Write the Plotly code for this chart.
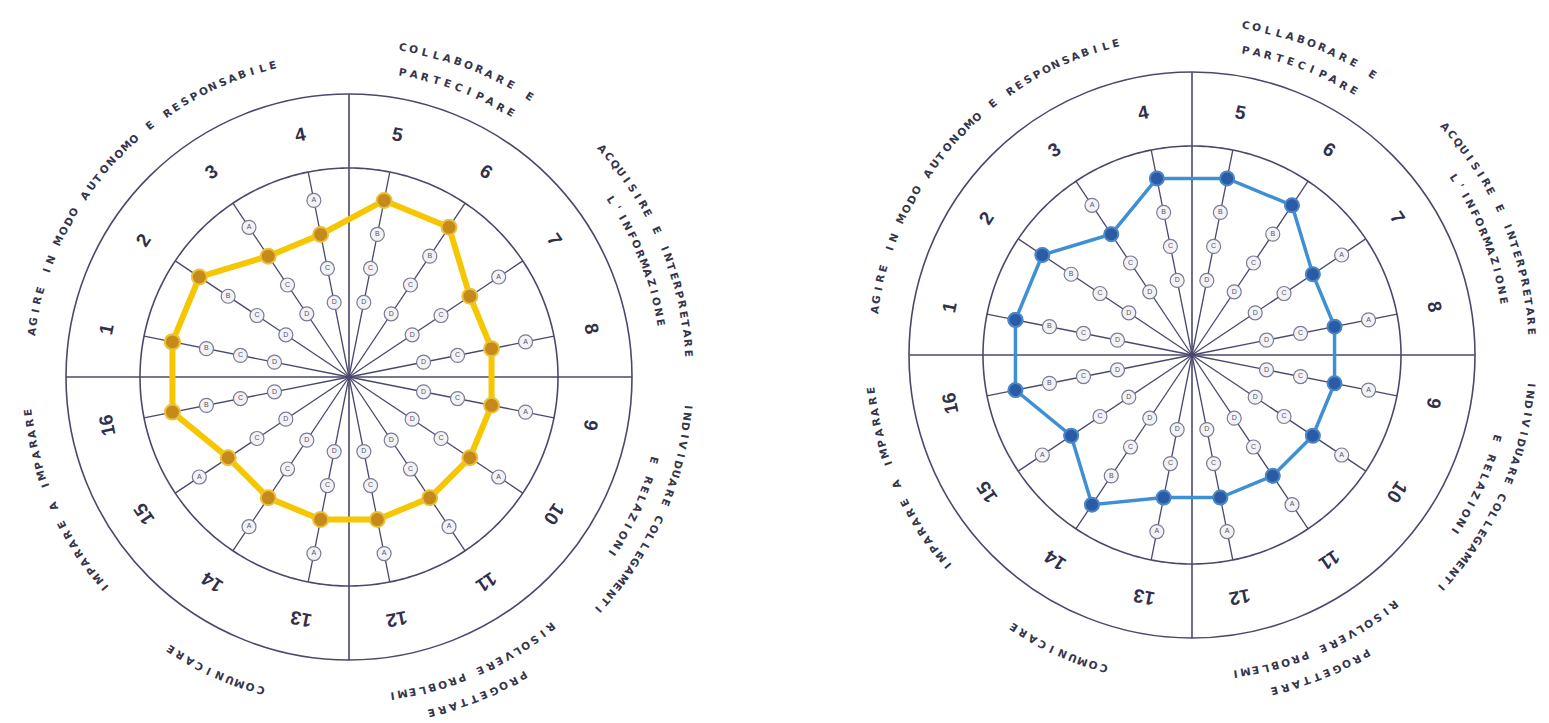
import numpy as np
import plotly.graph_objects as go

# ---------------- data ----------------
spokes = [str(i) for i in range(1, 17)]
level_letters = ["D", "C", "B", "A"]          # inner -> outer
level_values = [1, 2, 3, 4]
left_values = [4, 4, 3, 3, 4, 4, 3, 3, 3, 3, 3, 3, 3, 3, 3, 4]
right_values = [4, 4, 3, 4, 4, 4, 3, 3, 3, 3, 3, 3, 3, 4, 3, 4]
group_labels = [
    ["AGIRE IN MODO AUTONOMO E RESPONSABILE"],
    ["COLLABORARE E", "PARTECIPARE"],
    ["ACQUISIRE E INTERPRETARE", "L'INFORMAZIONE"],
    ["INDIVIDUARE COLLEGAMENTI", "E RELAZIONI"],
    ["PROGETTARE", "RISOLVERE PROBLEMI"],
    ["COMUNICARE"],
    ["IMPARARE A IMPARARE"],
]

# ---------------- geometry / style ----------------
OFF = 8                      # default page body margin
W, H = 1549 - OFF, 723 - OFF
R_OUT = 283.0      # px, outer circle
R_IN = 209.0       # px, inner circle (spoke ends)
R_NUM = 247.0      # px, spoke numbers
LVL_D = 76.0       # px radius of level D
STEP = 34.67       # px per level
r0 = 1 - LVL_D / STEP
out_u = R_OUT / STEP + r0
in_u = R_IN / STEP + r0
ROT = 168.75       # math angle of spoke 1

# label placement: (center angle, radius px, advance px) per line
label_pos = [
    [(137.8, 321, 10.6)],
    [(69.0, 334, 11.4), (69.3, 310, 11.6)],
    [(23.0, 341, 9.8), (22.0, 317, 10.2)],
    [(-24.0, 341, 9.8), (-24.5, 317, 10.2)],
    [(-68.0, 346, 11.0), (-66.7, 322, 10.3)],
    [(245.5, 326, 11.0)],
    [(203.5, 323, 10.8)],
]

LINE_COL = "#4a496c"
charts = [
    dict(cx=349, cy=377, values=left_values, name="polar",
         line="#f6c700", lw=6, mk="#c58a1a", mkl="#ecc23a", ms=15),
    dict(cx=1192, cy=355, values=right_values, name="polar2",
         line="#3f8fd4", lw=3.5, mk="#2a5ba6", mkl="#4a86c8", ms=14),
]

theta_sp = [22.5 * i for i in range(16)]


def paper(cx, cy, rpx, a):
    t = np.radians(a)
    return (cx - OFF + rpx * np.cos(t)) / W, 1 - (cy - OFF - rpx * np.sin(t)) / H


def norm_angle(x):
    return (x + 180) % 360 - 180


fig = go.Figure()
annotations = []
layout_polars = {}

for c in charts:
    sub = c["name"]
    cx, cy = c["cx"], c["cy"]
    # spokes
    rr, tt = [], []
    for t in theta_sp:
        rr += [r0, in_u, None]
        tt += [t, t, None]
    fig.add_trace(go.Scatterpolar(r=rr, theta=tt, mode="lines", subplot=sub,
                                  line=dict(color=LINE_COL, width=1.3),
                                  hoverinfo="skip", showlegend=False))
    # quadrant lines
    rr, tt = [], []
    for a in [0, 90, 180, 270]:
        rr += [r0, out_u, None]
        tt += [ROT - a, ROT - a, None]
    fig.add_trace(go.Scatterpolar(r=rr, theta=tt, mode="lines", subplot=sub,
                                  line=dict(color=LINE_COL, width=1.6),
                                  hoverinfo="skip", showlegend=False))
    # inner circle
    th = np.linspace(0, 360, 361)
    fig.add_trace(go.Scatterpolar(r=[in_u] * len(th), theta=th, mode="lines", subplot=sub,
                                  line=dict(color=LINE_COL, width=1.6),
                                  hoverinfo="skip", showlegend=False))
    # level markers on each spoke
    mr, mt, mtext = [], [], []
    for t in theta_sp:
        for v, l in zip(level_values, level_letters):
            mr.append(v)
            mt.append(t)
            mtext.append(l)
    fig.add_trace(go.Scatterpolar(r=mr, theta=mt, mode="markers+text", subplot=sub,
                                  text=mtext, textposition="middle center",
                                  textfont=dict(size=7, color="#555566", family="Liberation Sans"),
                                  marker=dict(size=14, color="#f3f3f7",
                                              line=dict(color="#7a7a92", width=1.2)),
                                  hoverinfo="skip", showlegend=False))
    # data polygon
    vals = c["values"] + c["values"][:1]
    ths = theta_sp + theta_sp[:1]
    fig.add_trace(go.Scatterpolar(r=vals, theta=ths, mode="lines+markers", subplot=sub,
                                  line=dict(color=c["line"], width=c["lw"]),
                                  marker=dict(size=c["ms"], color=c["mk"],
                                              line=dict(color=c["mkl"], width=2)),
                                  hoverinfo="skip", showlegend=False))
    layout_polars[sub] = dict(
        domain=dict(x=[(cx - OFF - R_OUT) / W, (cx - OFF + R_OUT) / W],
                    y=[1 - (cy - OFF + R_OUT) / H, 1 - (cy - OFF - R_OUT) / H]),
        bgcolor="white",
        radialaxis=dict(visible=False, range=[r0, out_u]),
        angularaxis=dict(rotation=ROT, direction="clockwise", showticklabels=False,
                         ticks="", showgrid=False, showline=True,
                         linecolor=LINE_COL, linewidth=1.6),
    )
    # spoke numbers
    for i, s in enumerate(spokes):
        a = ROT - 22.5 * i
        x, y = paper(cx, cy, R_NUM, a)
        annotations.append(dict(x=x, y=y, xref="paper", yref="paper", text="<b>%s</b>" % s,
                                showarrow=False, xanchor="center", yanchor="middle",
                                textangle=norm_angle(90 - a),
                                font=dict(size=19, color="#30304a", family="Liberation Sans Narrow, Liberation Sans")))
    # curved group labels
    for lines, poss in zip(group_labels, label_pos):
        for txt, (ac, rp, adv) in zip(lines, poss):
            step = np.degrees(adv / rp)
            n = len(txt)
            for k, ch in enumerate(txt):
                if ch == " ":
                    continue
                a = ac + (n - 1) / 2 * step - k * step
                x, y = paper(cx, cy, rp, a)
                annotations.append(dict(x=x, y=y, xref="paper", yref="paper",
                                        text="<b>%s</b>" % ch, showarrow=False,
                                        xanchor="center", yanchor="middle",
                                        textangle=norm_angle(90 - a),
                                        font=dict(size=10.5, color="#34344a",
                                                  family="DejaVu Sans")))

fig.update_layout(width=W, height=H, margin=dict(l=0, r=0, t=0, b=0),
                  paper_bgcolor="white", plot_bgcolor="white",
                  showlegend=False, annotations=annotations, **layout_polars)
fig.write_html("out.html")
